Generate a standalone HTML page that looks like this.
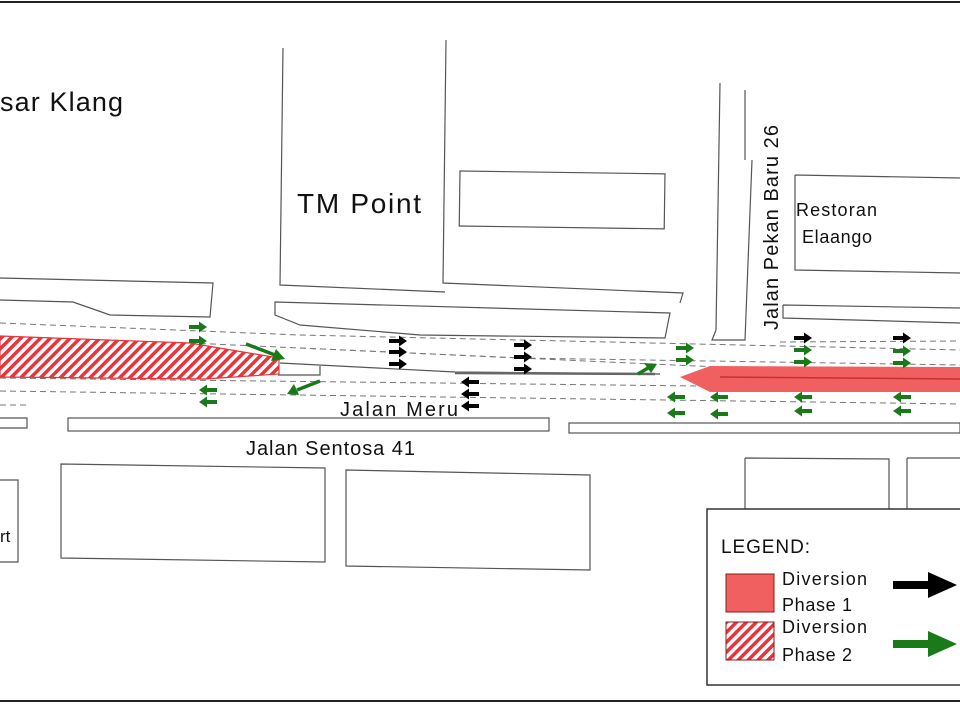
<!DOCTYPE html>
<html><head><meta charset="utf-8"><style>
html,body{margin:0;padding:0;background:#fff;}
svg{display:block;font-family:"Liberation Sans",sans-serif;}
</style></head><body>
<svg width="960" height="711" viewBox="0 0 960 711" xmlns="http://www.w3.org/2000/svg">
<defs>
<pattern id="hatch" patternUnits="userSpaceOnUse" width="7" height="7" patternTransform="rotate(45)">
<rect width="7" height="7" fill="#fff"/><rect width="3.5" height="7" fill="#e8343a"/>
</pattern>
<g id="rb"><path d="M-9,-2 H1 V-5.5 L9,0 L1,5.5 V2 H-9 Z" fill="#000"/></g>
<g id="rg"><path d="M-9,-2 H1 V-5.5 L9,0 L1,5.5 V2 H-9 Z" fill="#1a7a1a"/></g>
<g id="lb"><path d="M9,-2 H-1 V-5.5 L-9,0 L-1,5.5 V2 H9 Z" fill="#000"/></g>
<g id="lg"><path d="M9,-2 H-1 V-5.5 L-9,0 L-1,5.5 V2 H9 Z" fill="#1a7a1a"/></g>
</defs>
<rect width="960" height="711" fill="#fff"/>
<line x1="0" y1="2" x2="960" y2="2" stroke="#222" stroke-width="2"/>
<line x1="0" y1="701" x2="960" y2="701" stroke="#222" stroke-width="2"/>

<g fill="none" stroke="#555" stroke-width="1.2">
<path d="M283,48 L280,285 L445,292"/>
<path d="M446,40 L443,283 L683,293 L680,303"/>
<rect x="460" y="171" width="205" height="55" transform="rotate(0.8 460 171)"/>
<path d="M720,83 L716,330 L712,340 L745,340 L752,160"/>
<path d="M745,90 L745,160"/>
<path d="M795,175 L960,178 M795,175 L795,270 L960,273"/>
<path d="M0,278 L213,283 L210,317 L110,315 L73,302 L0,300"/>
<path d="M275,302 L670,313 L665,338 L420,335 L300,325 L275,315 Z"/>
<path d="M783,305 L960,308 M783,305 L783,318 L960,323"/>
<path d="M280,363 L455,372 L660,374"/>
<path d="M278,375 L320,375 L320,366"/>
<rect x="68" y="418" width="481" height="13"/>
<rect x="569" y="423" width="391" height="10"/>
<path d="M0,418 L27,418 L27,428 L0,428"/>
<path d="M61,464 L325,468 L325,562 L61,558 Z"/>
<path d="M346,470 L590,475 L590,570 L346,566 Z"/>
<path d="M0,480 L18,480 L18,562 L0,562"/>
<path d="M745,458 L889,459 L889,510 M745,458 L745,510"/>
<path d="M907,458 L960,458 M907,458 L907,510"/>
</g>
<line x1="455" y1="373" x2="655" y2="374" stroke="#666" stroke-width="2.5"/>

<g fill="none" stroke="#777" stroke-width="1" stroke-dasharray="6,4">
<path d="M0,323 L300,335 L960,350"/>
<path d="M190,343 L520,358 L960,365"/>
<path d="M300,348 L960,378"/>
<path d="M0,378 L960,389"/>
<path d="M0,391 L960,404"/>
<path d="M0,405 L30,405"/>
<path d="M780,342 L960,341"/>
</g>

<path d="M0,336 L190,343 L279,358 L279,374 L205,379 L0,377 Z" fill="url(#hatch)" stroke="#e8343a" stroke-width="1.2"/>
<path d="M680,377 L710,366 L960,367 L960,392 L710,392 Z" fill="#f06060"/>
<line x1="720" y1="377" x2="960" y2="379" stroke="#c83030" stroke-width="1.5"/>

<use href="#rg" x="198" y="327"/><use href="#rg" x="198" y="341"/>
<use href="#lg" x="208" y="390"/><use href="#lg" x="208" y="402"/>
<g stroke="#1a7a1a" stroke-width="3.5" fill="#1a7a1a">
<line x1="246" y1="344" x2="275" y2="355"/><path d="M285,359 L271,361 L276,349 Z" stroke="none"/>
<line x1="320" y1="381" x2="297" y2="390"/><path d="M287,394 L294,384 L299,395 Z" stroke="none"/>
<line x1="638" y1="374" x2="648" y2="368"/><path d="M657,364 L644,363 L651,373 Z" stroke="none"/>
</g>
<use href="#rb" x="398" y="341"/><use href="#rb" x="398" y="352"/><use href="#rb" x="398" y="364"/>
<use href="#rb" x="523" y="345"/><use href="#rb" x="523" y="357"/><use href="#rb" x="523" y="369"/>
<use href="#lb" x="470" y="382"/><use href="#lb" x="470" y="394"/><use href="#lb" x="470" y="406"/>
<use href="#rg" x="685" y="348"/><use href="#rg" x="685" y="360"/>
<use href="#lg" x="676" y="397"/><use href="#lg" x="676" y="413"/>
<use href="#lg" x="719" y="397"/><use href="#lg" x="719" y="414"/>
<use href="#rb" x="803" y="338"/><use href="#rg" x="803" y="350"/><use href="#rg" x="803" y="362"/>
<use href="#lg" x="803" y="397"/><use href="#lg" x="803" y="411"/>
<use href="#rb" x="902" y="338"/><use href="#rg" x="902" y="351"/><use href="#rg" x="902" y="363"/>
<use href="#lg" x="902" y="397"/><use href="#lg" x="902" y="411"/>

<g fill="#111">
<text x="0" y="111" font-size="27" textLength="123">sar Klang</text>
<text x="297" y="213" font-size="28" textLength="124">TM Point</text>
<text x="796" y="216" font-size="18" textLength="81">Restoran</text>
<text x="802" y="243" font-size="18" textLength="70">Elaango</text>
<text transform="translate(778,330) rotate(-90)" font-size="20" textLength="205">Jalan Pekan Baru 26</text>
<text x="340" y="416" font-size="20" textLength="118">Jalan Meru</text>
<text x="246" y="455" font-size="20" textLength="169">Jalan Sentosa 41</text>
<text x="0" y="542" font-size="17">rt</text>
</g>

<rect x="707" y="509" width="260" height="176" fill="#fff" stroke="#333" stroke-width="1.5"/>
<text x="721" y="553" font-size="19" fill="#111" textLength="89">LEGEND:</text>
<rect x="726" y="574" width="48" height="38" fill="#f06060" stroke="#8a1a1a" stroke-width="1"/>
<rect x="726" y="622" width="48" height="38" fill="url(#hatch)" stroke="#8a1a1a" stroke-width="1"/>
<g font-size="18" fill="#111">
<text x="782" y="585" textLength="85">Diversion</text>
<text x="782" y="611" textLength="70">Phase 1</text>
<text x="782" y="633" textLength="85">Diversion</text>
<text x="782" y="661" textLength="70">Phase 2</text>
</g>
<path d="M893,581 H928 V572 L957,585 L928,598 V589 H893 Z" fill="#000"/>
<path d="M893,640 H928 V631 L957,644 L928,657 V648 H893 Z" fill="#1a7a1a"/>
</svg>
</body></html>
